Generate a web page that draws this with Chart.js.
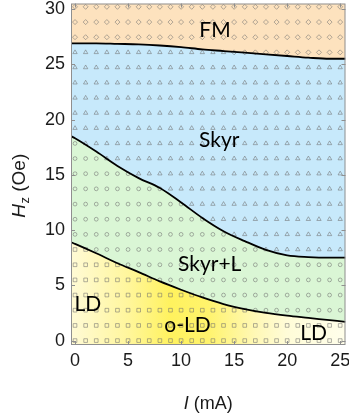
<!DOCTYPE html>
<html><head><meta charset="utf-8">
<script src="https://cdn.jsdelivr.net/npm/chart.js@4"></script>
<style>html,body{margin:0;padding:0;background:#fff}canvas{display:block}</style>
</head><body>
<canvas id="c" width="349" height="417"></canvas>
<script>
// ---- data ----
const boundaryX  = [-0.38, 0, 2, 4, 6, 8, 10, 12, 14, 16, 18, 20, 22, 24, 25.5];
const ldUpper    = [8.9, 8.75, 7.9, 7.0, 6.2, 5.35, 4.6, 3.9, 3.3, 2.85, 2.5, 2.25, 2.05, 1.85, 1.7];
const skyrLower  = [18.5, 18.3, 17.1, 15.8, 14.7, 13.8, 12.5, 11.1, 9.9, 9.0, 8.2, 7.7, 7.55, 7.5, 7.5];
const fmLower    = [26.9, 26.9, 26.9, 26.85, 26.8, 26.7, 26.55, 26.35, 26.2, 26.05, 25.9, 25.75, 25.6, 25.5, 25.5];

const gridI = [0,1,2,3,4,5,6,7,8,9,10,11,12,13,14,15,16,17,18,19,20,21,22,23,24,25];
const gridH = [0, 1.37, 2.75, 4.12, 5.49, 6.86, 8.24, 9.61, 10.98, 12.35, 13.73, 15.1, 16.47,
               17.84, 19.22, 20.59, 21.96, 23.33, 24.71, 26.08, 27.45, 28.82, 30.2];
// phase of each measured point along a row (run-length): D = LD, C = Skyr+L, T = Skyr, F = FM
const gridPhaseRuns = ["D26","D26","D17 C9","D12 C14","D8 C18","D5 C21","D2 C16 T8",
  "C15 T11","C13 T13","C11 T15","C9 T17","C6 T20","C3 T23","C1 T25",
  "T26","T26","T26","T26","T26","T15 F11","F26","F26","F26"];

const xTicks = [0, 5, 10, 15, 20, 25];
const yTicks = [0, 5, 10, 15, 20, 25, 30];
const phaseNames = ["FM", "Skyr", "Skyr+L", "o-LD", "LD", "LD"];
// ---- end data ----

const phaseLabelAt = [[13.2,27.45],[13.6,17.5],[12.7,6.33],[10.6,0.8],[22.5,0.05],[1.2,2.68]];

Chart.defaults.font.family = "'Liberation Sans', Arial, sans-serif";
Chart.defaults.font.size = 18;
Chart.defaults.color = '#1b1b1b';

function decodeRuns(s){
  const out=[];
  s.split(' ').forEach(r=>{const c=r[0], n=parseInt(r.slice(1),10); for(let i=0;i<n;i++) out.push(c);});
  return out;
}
const markerSets = {D:[],C:[],T:[],F:[]};
gridH.forEach((h,k)=>{ decodeRuns(gridPhaseRuns[k]).forEach((p,i)=>markerSets[p].push({x:gridI[i], y:h})); });

const toPts = arr => boundaryX.map((x,i)=>({x, y:arr[i]}));

function ldFill(ctx){
  const chart = ctx.chart;
  const xs = chart.scales && chart.scales.x;
  if(!chart.chartArea || !xs) return '#fff6a0';
  const g = chart.ctx.createLinearGradient(xs.getPixelForValue(0),0,xs.getPixelForValue(25),0);
  g.addColorStop(0.00,'#fffad2');
  g.addColorStop(0.20,'#fff69c');
  g.addColorStop(0.36,'#fff25e');
  g.addColorStop(0.50,'#fff36c');
  g.addColorStop(0.68,'#fff8b6');
  g.addColorStop(0.80,'#fffcd8');
  g.addColorStop(1.00,'#fffee9');
  return g;
}

const markerColor = 'rgba(110,110,110,0.6)';
function markerDs(key, style, r){
  return {data: markerSets[key], showLine:false, pointStyle:style, pointRadius:r, pointHoverRadius:r,
          pointBorderColor:markerColor, pointBackgroundColor:'rgba(0,0,0,0)', pointBorderWidth:0.9, fill:false};
}

const boundaryCommon = {pointRadius:0, borderColor:'#000', borderWidth:1.8, cubicInterpolationMode:'monotone'};

const framePlugin = {
  id:'frame',
  afterDatasetsDraw(chart){
    const {ctx, chartArea:a, scales:{x,y}} = chart;
    ctx.save();
    ctx.strokeStyle = '#8f8f8f'; ctx.lineWidth = 1;
    ctx.strokeRect(a.left+0.5, a.top+0.5, a.right-a.left-1, a.bottom-a.top-1);
    const L = 4;
    ctx.beginPath();
    xTicks.forEach(v=>{const px=Math.round(x.getPixelForValue(v))+0.5;
      ctx.moveTo(px,a.bottom); ctx.lineTo(px,a.bottom-L);
      ctx.moveTo(px,a.top); ctx.lineTo(px,a.top+L);});
    yTicks.forEach(v=>{const py=Math.round(y.getPixelForValue(v))+0.5;
      ctx.moveTo(a.left,py); ctx.lineTo(a.left+L,py);
      ctx.moveTo(a.right,py); ctx.lineTo(a.right-L,py);});
    ctx.stroke();
    // phase labels
    ctx.fillStyle = '#000';
    ctx.font = "21px Lato, 'Open Sans', sans-serif";
    ctx.textAlign = 'center'; ctx.textBaseline = 'alphabetic';
    phaseNames.forEach((t,i)=>{
      ctx.fillText(t, x.getPixelForValue(phaseLabelAt[i][0]), y.getPixelForValue(phaseLabelAt[i][1]));
    });
    ctx.restore();
  },
  afterDraw(chart){
    const {ctx, chartArea:a} = chart;
    ctx.save();
    ctx.fillStyle = '#1b1b1b';
    ctx.textBaseline = 'alphabetic';
    // x title: I (mA)
    const f = "18px 'Liberation Sans', Arial, sans-serif";
    const fi = "italic 18px 'Liberation Sans', Arial, sans-serif";
    ctx.font = fi; const w1 = ctx.measureText('I').width;
    ctx.font = f; const w2 = ctx.measureText(' (mA)').width;
    const cx = (a.left+a.right)/2, by = 408.5;
    let sx = cx - (w1+w2)/2;
    ctx.font = fi; ctx.textAlign='left'; ctx.fillText('I', sx, by);
    ctx.font = f; ctx.fillText(' (mA)', sx+w1, by);
    // y title: Hz (Oe), rotated
    const fy = "19px 'Liberation Sans', Arial, sans-serif";
    const fyi = "italic 19px 'Liberation Sans', Arial, sans-serif";
    const fs = "13px 'Liberation Sans', Arial, sans-serif";
    ctx.font = fyi; const h1 = ctx.measureText('H').width;
    ctx.font = fs; const h2 = ctx.measureText('z').width;
    ctx.font = fy; const h3 = ctx.measureText(' (Oe)').width;
    ctx.translate(25, 186);
    ctx.rotate(-Math.PI/2);
    let tx = -(h1+h2+h3)/2;
    ctx.font = fyi; ctx.fillText('H', tx, 0);
    ctx.font = fs; ctx.fillText('z', tx+h1+0.5, 4);
    ctx.font = fy; ctx.fillText(' (Oe)', tx+h1+h2+0.5, 0);
    ctx.restore();
  }
};

new Chart(document.getElementById('c'), {
  type:'line',
  data:{datasets:[
    Object.assign({data:toPts(ldUpper), fill:'start', backgroundColor:ldFill}, boundaryCommon),
    Object.assign({data:toPts(skyrLower), fill:{target:0}, backgroundColor:'#daf6d5'}, boundaryCommon),
    Object.assign({data:toPts(fmLower), fill:{target:1}, backgroundColor:'#c7e9fb'}, boundaryCommon),
    {data:toPts(fmLower), fill:'end', backgroundColor:'#fde2be', borderWidth:0, pointRadius:0, cubicInterpolationMode:'monotone'},
    markerDs('D','rect',2.6),
    markerDs('C','circle',1.9),
    markerDs('T','triangle',2.5),
    markerDs('F','rectRot',2.5)
  ]},
  options:{
    responsive:false, animation:false, devicePixelRatio:1,
    layout:{padding:{top:1,right:2,left:0,bottom:0}},
    plugins:{legend:{display:false}, tooltip:{enabled:false}, filler:{drawTime:'beforeDatasetsDraw'}},
    scales:{
      x:{type:'linear', min:-0.38, max:25.5,
         grid:{display:false, drawTicks:false}, border:{display:false},
         ticks:{padding:5, color:'#1b1b1b', font:{size:18}},
         afterBuildTicks:s=>{s.ticks = xTicks.map(v=>({value:v}));},
         afterFit:s=>{s.height=72; s.paddingLeft=0; s.paddingRight=0;}},
      y:{type:'linear', min:-0.4, max:30.5,
         grid:{display:false, drawTicks:false}, border:{display:false},
         ticks:{padding:6, color:'#1b1b1b', font:{size:18}},
         afterBuildTicks:s=>{s.ticks = yTicks.map(v=>({value:v}));},
         afterFit:s=>{s.width=71; s.paddingTop=0; s.paddingBottom=0;}}
    }
  },
  plugins:[framePlugin]
});
</script>
</body></html>
